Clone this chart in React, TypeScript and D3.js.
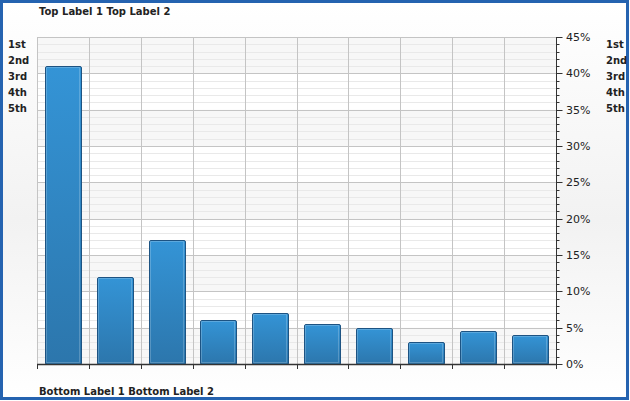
import React, { useEffect, useRef } from 'react';
import * as d3 from 'd3';

const categories = ['A', 'B', 'C', 'D', 'E', 'F', 'G', 'H', 'I', 'J'];
const values = [41, 12, 17, 6, 7, 5.5, 5, 3, 4.5, 4];
const yTicks = [0, 5, 10, 15, 20, 25, 30, 35, 40, 45];
const sideLabels = ['1st', '2nd', '3rd', '4th', '5th'];
const topTitle = 'Top Label 1 Top Label 2';
const bottomTitle = 'Bottom Label 1 Bottom Label 2';

const W = 630;
const H = 401;

const App: React.FC = () => {
  const svgRef = useRef<SVGSVGElement>(null);

  useEffect(() => {
    if (!svgRef.current) return;
    const svg = d3.select(svgRef.current);
    svg.selectAll('*').remove();

    const plot = { left: 37, right: 556, top: 37, bottom: 364 };
    const font = "'DejaVu Sans', Verdana, sans-serif";

    const defs = svg.append('defs');
    const bg = defs.append('linearGradient').attr('id', 'bg').attr('x1', 0).attr('y1', 0).attr('x2', 0).attr('y2', 1);
    bg.append('stop').attr('offset', '0%').attr('stop-color', '#ffffff');
    bg.append('stop').attr('offset', '55%').attr('stop-color', '#f2f2f2');
    bg.append('stop').attr('offset', '100%').attr('stop-color', '#ffffff');

    const barG = defs.append('linearGradient').attr('id', 'bar').attr('x1', 0).attr('y1', 0).attr('x2', 0).attr('y2', 1);
    barG.append('stop').attr('offset', '0%').attr('stop-color', '#3494d6');
    barG.append('stop').attr('offset', '100%').attr('stop-color', '#2c76ac');

    // background + frame
    svg.append('rect').attr('x', 1.5).attr('y', 1.5).attr('width', W - 4).attr('height', H - 4)
      .attr('fill', 'url(#bg)').attr('stroke', '#2563b0').attr('stroke-width', 3);

    const x = d3.scaleBand<string>().domain(categories)
      .range([plot.left, plot.right]).paddingInner(0.3).paddingOuter(0.15);
    const y = d3.scaleLinear().domain([0, 45]).range([plot.bottom, plot.top]);

    const g = svg.append('g');

    // interlaced bands
    g.selectAll('.band')
      .data(yTicks.slice(0, -1))
      .join('rect')
      .attr('x', plot.left)
      .attr('y', d => y(d + 5))
      .attr('width', plot.right - plot.left)
      .attr('height', d => y(d) - y(d + 5))
      .attr('fill', (d, i) => (i % 2 === 0 ? '#f7f7f7' : '#ffffff'));

    // minor grid
    const minor = d3.range(0, 46, 1).filter(v => v % 5 !== 0);
    g.selectAll('.minor')
      .data(minor)
      .join('line')
      .attr('x1', plot.left).attr('x2', plot.right)
      .attr('y1', d => Math.round(y(d)) + 0.5).attr('y2', d => Math.round(y(d)) + 0.5)
      .attr('stroke', '#e9e9e9');

    // major grid
    g.selectAll('.major')
      .data(yTicks)
      .join('line')
      .attr('x1', plot.left).attr('x2', plot.right)
      .attr('y1', d => Math.round(y(d)) + 0.5).attr('y2', d => Math.round(y(d)) + 0.5)
      .attr('stroke', '#c4c4c4');

    // vertical grid at category boundaries
    const bounds = d3.range(0, categories.length + 1).map(i => plot.left + i * (plot.right - plot.left) / categories.length);
    g.selectAll('.vgrid')
      .data(bounds)
      .join('line')
      .attr('x1', d => Math.round(d) + 0.5).attr('x2', d => Math.round(d) + 0.5)
      .attr('y1', plot.top).attr('y2', plot.bottom)
      .attr('stroke', '#c4c4c4');

    // bars
    const bars = g.selectAll('.bar')
      .data(values)
      .join('g');
    bars.append('rect')
      .attr('x', (d, i) => Math.round(x(categories[i])!) + 0.5)
      .attr('y', d => Math.round(y(d)) + 0.5)
      .attr('width', Math.round(x.bandwidth()))
      .attr('height', d => plot.bottom - Math.round(y(d)))
      .attr('rx', 1.5)
      .attr('fill', 'url(#bar)')
      .attr('stroke', '#1d5382')
      .attr('stroke-width', 1);
    bars.append('rect')
      .attr('x', (d, i) => Math.round(x(categories[i])!) + 1.5)
      .attr('y', d => Math.round(y(d)) + 1.5)
      .attr('width', Math.round(x.bandwidth()) - 3)
      .attr('height', d => Math.max(0, plot.bottom - Math.round(y(d)) - 3))
      .attr('fill', 'none')
      .attr('stroke', 'rgba(255,255,255,0.2)')
      .attr('stroke-width', 1);

    // bottom axis
    g.append('line')
      .attr('x1', plot.left).attr('x2', plot.right + 1)
      .attr('y1', plot.bottom + 0.5).attr('y2', plot.bottom + 0.5)
      .attr('stroke', '#333').attr('stroke-width', 1.5);
    g.selectAll('.xtick')
      .data(bounds)
      .join('line')
      .attr('x1', d => Math.round(d) + 0.5).attr('x2', d => Math.round(d) + 0.5)
      .attr('y1', plot.bottom).attr('y2', plot.bottom + 5)
      .attr('stroke', '#333');

    // right axis
    const ax = plot.right + 0.5;
    g.append('line')
      .attr('x1', ax).attr('x2', ax)
      .attr('y1', plot.top).attr('y2', plot.bottom + 1)
      .attr('stroke', '#333');
    g.selectAll('.ytickm')
      .data(minor)
      .join('line')
      .attr('x1', ax).attr('x2', ax + 3)
      .attr('y1', d => Math.round(y(d)) + 0.5).attr('y2', d => Math.round(y(d)) + 0.5)
      .attr('stroke', '#333');
    g.selectAll('.ytick')
      .data(yTicks)
      .join('line')
      .attr('x1', ax).attr('x2', ax + 6)
      .attr('y1', d => Math.round(y(d)) + 0.5).attr('y2', d => Math.round(y(d)) + 0.5)
      .attr('stroke', '#333');
    g.selectAll('.ylabel')
      .data(yTicks)
      .join('text')
      .attr('x', plot.right + 10)
      .attr('y', d => y(d))
      .attr('dy', '0.35em')
      .attr('font-family', font)
      .attr('font-size', 11)
      .attr('fill', '#222')
      .text(d => `${d}%`);

    // side labels
    const sideY = d3.scalePoint<string>().domain(sideLabels).range([44, 108]);
    [8, 606].forEach(sx => {
      g.selectAll(null)
        .data(sideLabels)
        .join('text')
        .attr('x', sx)
        .attr('y', d => sideY(d)!)
        .attr('dy', '0.35em')
        .attr('font-family', font)
        .attr('font-size', 10)
        .attr('font-weight', 'bold')
        .attr('fill', '#222')
        .text(d => d);
    });

    // titles
    svg.append('text')
      .attr('x', 39).attr('y', 11).attr('dy', '0.35em')
      .attr('font-family', font).attr('font-size', 10).attr('font-weight', 'bold').attr('fill', '#222')
      .text(topTitle);
    svg.append('text')
      .attr('x', 39).attr('y', 391).attr('dy', '0.35em')
      .attr('font-family', font).attr('font-size', 10).attr('font-weight', 'bold').attr('fill', '#222')
      .text(bottomTitle);
  }, []);

  return (
    <svg ref={svgRef} width={W} height={H} style={{ position: 'absolute', left: 0, top: 0, display: 'block' }} />
  );
};

export default App;
